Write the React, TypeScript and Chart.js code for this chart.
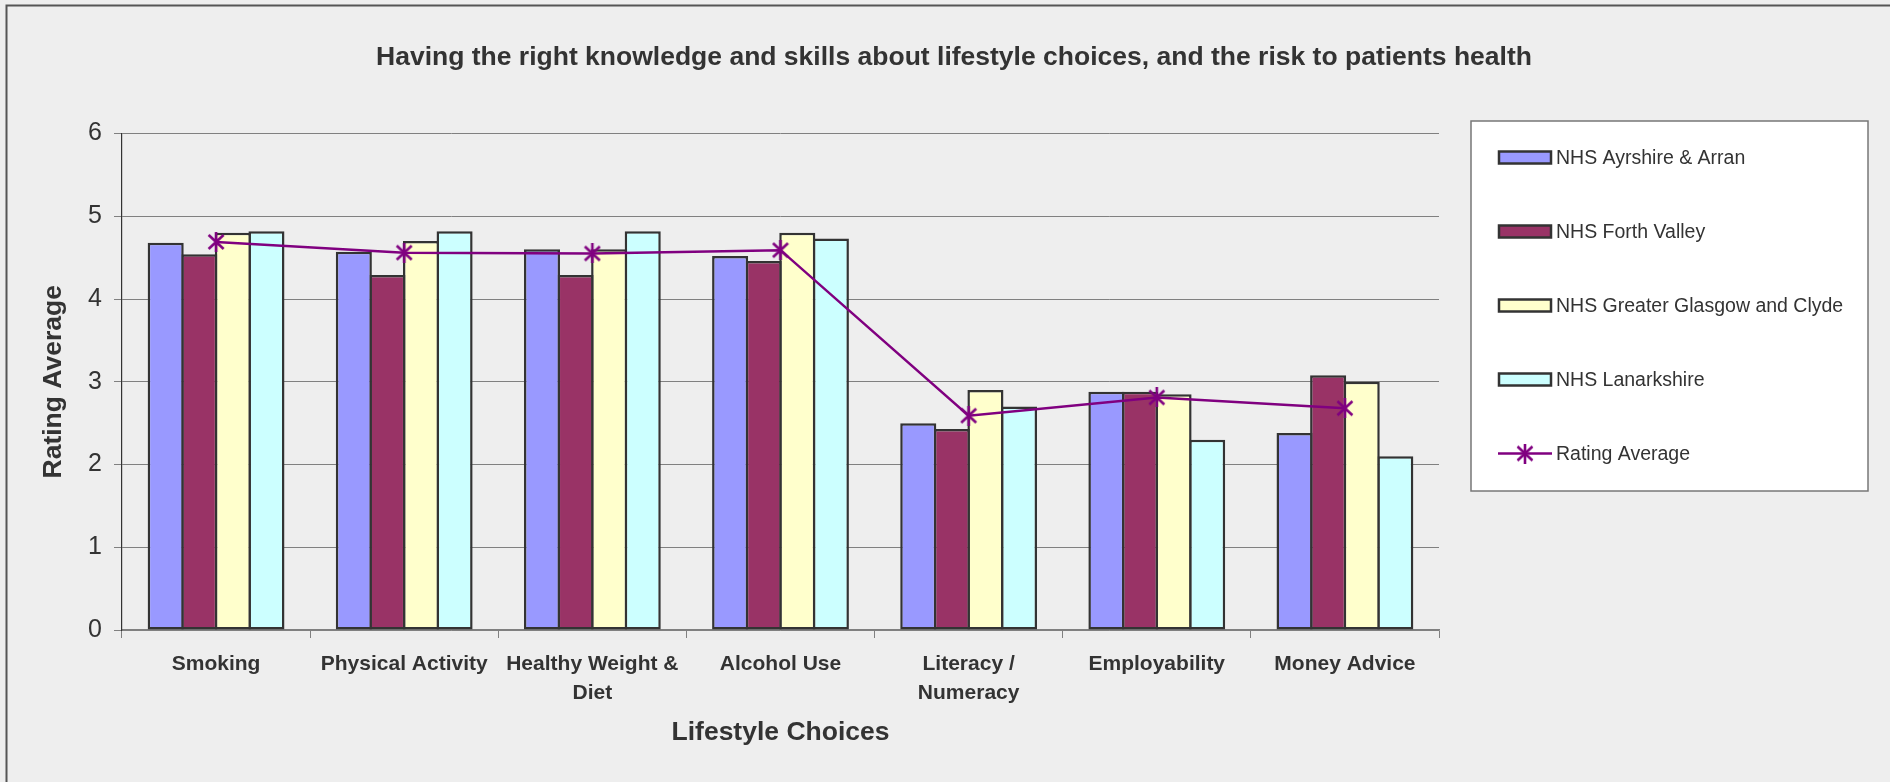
import React, { useEffect, useRef } from 'react';
import { Chart, registerables } from 'chart.js';

Chart.register(...registerables);

const chartTitle = 'Having the right knowledge and skills about lifestyle choices, and the risk to patients health';
const xAxisTitle = 'Lifestyle Choices';
const yAxisTitle = 'Rating Average';

const categories: (string | string[])[] = [
  'Smoking',
  'Physical Activity',
  ['Healthy Weight &', 'Diet'],
  'Alcohol Use',
  ['Literacy /', 'Numeracy'],
  'Employability',
  'Money Advice',
];

const seriesNames = ['NHS Ayrshire & Arran', 'NHS Forth Valley', 'NHS Greater Glasgow and Clyde', 'NHS Lanarkshire'];
const lineName = 'Rating Average';

const ayrshireArran = [4.68, 4.57, 4.6, 4.52, 2.5, 2.88, 2.38];
const forthValley = [4.54, 4.29, 4.29, 4.46, 2.43, 2.88, 3.08];
const greaterGlasgow = [4.8, 4.7, 4.6, 4.8, 2.9, 2.85, 3.0];
const lanarkshire = [4.82, 4.82, 4.82, 4.73, 2.7, 2.3, 2.1];
const ratingAverage = [4.69, 4.56, 4.55, 4.59, 2.59, 2.81, 2.68];

const yTicks = [0, 1, 2, 3, 4, 5, 6];

const barColors = ['#9999FF', '#993366', '#FFFFCC', '#CCFFFF'];
const lineColor = '#800080';
const textColor = '#333333';
const FONT = "'Liberation Sans', Arial, sans-serif";

function makeStar(color: string): HTMLCanvasElement {
  const c = document.createElement('canvas');
  c.width = 18;
  c.height = 20;
  const g = c.getContext('2d')!;
  g.strokeStyle = color;
  g.lineWidth = 2.6;
  g.beginPath();
  g.moveTo(1.5, 3);
  g.lineTo(16.5, 17);
  g.moveTo(16.5, 3);
  g.lineTo(1.5, 17);
  g.moveTo(9, 0);
  g.lineTo(9, 20);
  g.stroke();
  return c;
}

export default function App() {
  const ref = useRef<HTMLCanvasElement | null>(null);

  useEffect(() => {
    const canvas = ref.current!;
    const star = makeStar(lineColor);

    const backgroundPlugin = {
      id: 'bgPlugin',
      beforeDraw(chart: any) {
        const ctx = chart.ctx;
        ctx.save();
        ctx.fillStyle = '#EEEEEE';
        ctx.fillRect(0, 0, chart.width, chart.height);
        ctx.strokeStyle = '#555555';
        ctx.lineWidth = 2;
        ctx.beginPath();
        ctx.moveTo(6.5, chart.height + 2);
        ctx.lineTo(6.5, 5.5);
        ctx.lineTo(chart.width + 2, 5.5);
        ctx.stroke();
        ctx.restore();
      },
    };

    const legendPlugin = {
      id: 'boxLegend',
      afterDraw(chart: any) {
        const ctx = chart.ctx;
        const bx = 1471, by = 121, bw = 397, bh = 370;
        ctx.save();
        ctx.fillStyle = '#FFFFFF';
        ctx.fillRect(bx, by, bw, bh);
        ctx.strokeStyle = '#777777';
        ctx.lineWidth = 1.5;
        ctx.strokeRect(bx, by, bw, bh);
        ctx.font = `19.5px ${FONT}`;
        ctx.textBaseline = 'middle';
        ctx.textAlign = 'left';
        const items = chart.data.datasets.slice().sort((a: any, b: any) => a.legendIndex - b.legendIndex);
        items.forEach((ds: any, i: number) => {
          const y = 157.5 + i * 74;
          const sx = 1499, sw = 52, sh = 12;
          if (ds.type === 'line') {
            ctx.strokeStyle = ds.borderColor;
            ctx.lineWidth = 2.5;
            ctx.beginPath();
            ctx.moveTo(sx - 1, y);
            ctx.lineTo(sx + sw + 1, y);
            ctx.stroke();
            ctx.drawImage(star, sx + sw / 2 - star.width / 2, y - star.height / 2);
          } else {
            ctx.fillStyle = ds.backgroundColor;
            ctx.fillRect(sx, y - sh / 2, sw, sh);
            ctx.strokeStyle = '#333333';
            ctx.lineWidth = 2.5;
            ctx.strokeRect(sx, y - sh / 2, sw, sh);
          }
          ctx.fillStyle = textColor;
          ctx.fillText(ds.label, 1556, y + 1);
        });
        ctx.restore();
      },
    };

    const barSets = [ayrshireArran, forthValley, greaterGlasgow, lanarkshire].map((data, i) => ({
      type: 'bar' as const,
      label: seriesNames[i],
      data,
      backgroundColor: barColors[i],
      borderColor: '#333333',
      borderWidth: 2.5,
      borderSkipped: false,
      categoryPercentage: 0.714,
      barPercentage: 1.074,
      order: 1,
      legendIndex: i,
    }));

    const chart = new Chart(canvas, {
      type: 'bar',
      data: {
        labels: categories as any,
        datasets: [
          ...barSets,
          {
            type: 'line' as const,
            label: lineName,
            data: ratingAverage,
            borderColor: lineColor,
            backgroundColor: lineColor,
            borderWidth: 2.5,
            pointStyle: star as any,
            pointRadius: 8,
            fill: false,
            tension: 0,
            order: 0,
            legendIndex: 4,
          } as any,
        ],
      },
      options: {
        responsive: false,
        animation: false,
        devicePixelRatio: 1,
        layout: { padding: { left: 18, right: 0, top: 0, bottom: 0 } },
        plugins: {
          legend: { display: false },
          tooltip: { enabled: false },
          title: {
            display: true,
            text: chartTitle,
            color: textColor,
            font: { family: FONT, size: 26.5, weight: 'bold', lineHeight: 1.2 },
            padding: { top: 42, bottom: 59.7 },
          },
        },
        scales: {
          x: {
            type: 'category',
            offset: true,
            grid: {
              display: true,
              drawOnChartArea: false,
              drawTicks: true,
              offset: true,
              tickLength: 8,
              color: '#808080',
              tickColor: '#808080',
            },
            border: { display: true, color: '#808080', width: 1.5 },
            ticks: {
              color: textColor,
              padding: 11.5,
              maxRotation: 0,
              autoSkip: false,
              font: { family: FONT, size: 21, weight: 'bold', lineHeight: 1.38 },
            },
            title: {
              display: true,
              text: xAxisTitle,
              color: textColor,
              font: { family: FONT, size: 26.5, weight: 'bold', lineHeight: 1.2 },
              padding: { top: 0, bottom: 33 },
            },
            afterFit(scale: any) {
              scale.height = 152;
            },
          },
          y: {
            type: 'linear',
            position: 'left',
            min: yTicks[0],
            max: yTicks[yTicks.length - 1],
            afterBuildTicks(scale: any) {
              scale.ticks = yTicks.map((v) => ({ value: v }));
            },
            grid: {
              color: '#808080',
              tickColor: '#808080',
              tickLength: 8,
              lineWidth: 1,
            },
            border: { display: true, color: '#333333', width: 1.2 },
            ticks: {
              color: textColor,
              padding: 12,
              font: { family: FONT, size: 25 },
            },
            title: {
              display: true,
              text: yAxisTitle,
              color: textColor,
              font: { family: FONT, size: 26.5, weight: 'bold', lineHeight: 1.2 },
              padding: { top: 19.5, bottom: 0 },
            },
            afterFit(scale: any) {
              scale.width = 104;
            },
          },
          yRight: {
            type: 'linear',
            position: 'right',
            display: true,
            grid: { display: false, drawTicks: false },
            border: { display: false },
            ticks: { display: false },
            afterFit(scale: any) {
              scale.width = 451;
            },
          },
        },
      } as any,
      plugins: [backgroundPlugin, legendPlugin],
    });

    return () => chart.destroy();
  }, []);

  return (
    <div style={{ position: 'fixed', left: 0, top: 0, width: 1890, height: 782 }}>
      <canvas ref={ref} width={1890} height={782} style={{ display: 'block', width: 1890, height: 782 }} />
    </div>
  );
}
